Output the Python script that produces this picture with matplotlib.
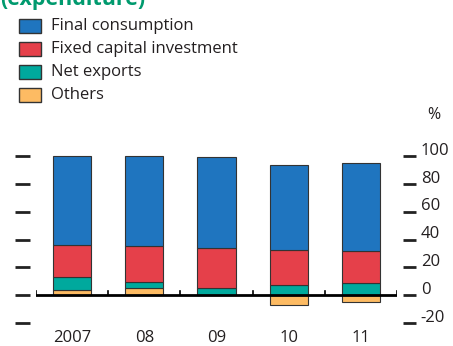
import matplotlib
matplotlib.use("Agg")
import matplotlib.pyplot as plt
import numpy as np
from matplotlib.patches import Rectangle

plt.rcParams["font.family"] = ["Open Sans", "DejaVu Sans"]

# ---- data (percent) ----
years = ["2007", "08", "09", "10", "11"]
final_consumption = [64, 64.5, 65, 60.5, 63]
fixed_investment = [23, 26, 29, 25, 23]
net_exports = [9, 4.5, 5, 7.5, 8.5]
others = [4, 5, 0, -7, -5]

series_labels = ["Final consumption", "Fixed capital investment", "Net exports", "Others"]
series_colors = ["#1f75bf", "#e5404a", "#00a99d", "#fdbb63"]
yticks = [100, 80, 60, 40, 20, 0, -20]

TXT = "#231f20"
EDGE = "#333333"
FS = 12

fig = plt.figure(figsize=(4.53, 3.46), dpi=100)
W, H = 453, 346
ax = fig.add_axes([36 / W, (H - 323.3) / H, 361 / W, (323.3 - 155.7) / H])

x = np.arange(len(years))
bw = 0.53

# positive parts stack upward from 0, negative "others" hang below 0
oth = np.array(others, dtype=float)
pos_oth = np.clip(oth, 0, None)
neg_oth = np.clip(oth, None, 0)
ax.bar(x, neg_oth, bw, color=series_colors[3], edgecolor=EDGE, lw=0.8, zorder=2)
ax.bar(x, pos_oth, bw, color=series_colors[3], edgecolor=EDGE, lw=0.8, zorder=2)
base = pos_oth.copy()
for vals, col in zip([net_exports, fixed_investment, final_consumption], series_colors[2::-1]):
    ax.bar(x, vals, bw, bottom=base, color=col, edgecolor=EDGE, lw=0.8, zorder=2,
           clip_on=False)
    base = base + np.array(vals)

ax.set_xlim(-0.5, len(years) - 0.5)
ax.set_ylim(-20, 100)
ax.axis("off")

# zero line with small upward ticks at category boundaries
ax.axhline(0, color="black", lw=2, zorder=3)
for b in np.arange(-0.5, len(years), 1.0):
    ax.plot([b, b], [0, 2.8], color="black", lw=1.2, zorder=3)

# detached dashes on both sides, labels on the right only
yt = ax.get_yaxis_transform()
for v in yticks:
    ax.plot([-0.058, -0.017], [v, v], transform=yt, color="#222222", lw=2,
            clip_on=False, solid_capstyle="butt")
    ax.plot([1.016, 1.054], [v, v], transform=yt, color="#222222", lw=2,
            clip_on=False, solid_capstyle="butt")
    ax.text(1.066, v + 0.8, str(v), transform=yt, fontsize=FS, color=TXT,
            ha="left", va="baseline")
ax.text(1.085, 129, "%", transform=yt, fontsize=FS - 0.5, color=TXT, ha="left", va="center")

for xi, lab in zip(x, years):
    ax.text(xi, -30.5, lab, fontsize=FS, color=TXT, ha="center", va="center")

# legend
for i, (lab, col) in enumerate(zip(series_labels, series_colors)):
    cy = 26 + i * 23
    fig.add_artist(Rectangle((19 / W, 1 - (cy + 7) / H), 22 / W, 14 / H,
                             facecolor=col, edgecolor=EDGE, lw=1))
    fig.text(51 / W, 1 - cy / H, lab, fontsize=FS, color=TXT, ha="left", va="center")

# title, cut off at the top of the image as in the source
fig.text(0, 1 - 5.5 / H, "(expenditure)", fontsize=15.5, fontweight="bold",
         color="#009a6e", ha="left", va="baseline")

fig.savefig("out.png", dpi=100)
